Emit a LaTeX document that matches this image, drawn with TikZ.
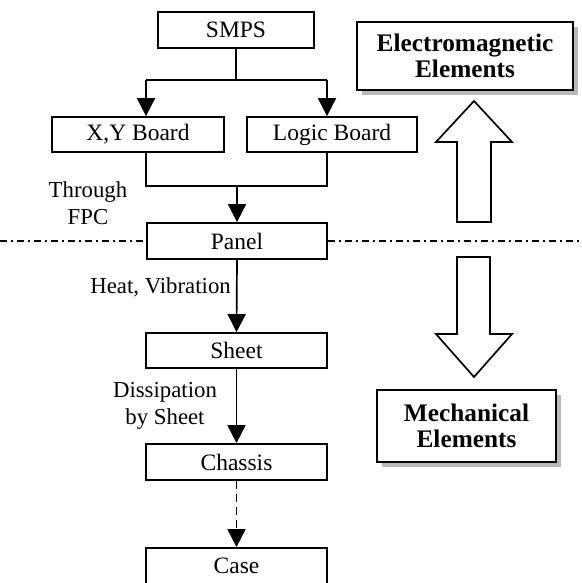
\documentclass[tikz,border=0pt]{standalone}
\usepackage{fontspec}
\setmainfont{Liberation Serif}
\usetikzlibrary{arrows.meta}
\begin{document}
\begin{tikzpicture}[x=1pt,y=-1pt,
  box/.style={draw,line width=1.7pt,fill=white,inner sep=0pt,font=\fontsize{23.5}{26}\selectfont},
  bigbox/.style={draw,line width=1.7pt,fill=white,inner sep=0pt,align=center,font=\fontsize{25.3}{28}\selectfont\bfseries},
  conn/.style={line width=1.7pt,-{Triangle[width=18pt,length=18pt]}},
  plain/.style={line width=1.7pt},
  lbl/.style={inner sep=0pt,font=\fontsize{22.8}{26.5}\selectfont,align=center},
  hollow/.style={draw,line width=1.7pt,fill=white,line join=miter},
  shadowfill/.style={fill=gray!55}
]
\useasboundingbox (0,0) rectangle (581,583);

% boxes
\node[box,minimum width=156pt,minimum height=36pt] (smps) at (236,30) {SMPS};
\node[box,minimum width=172pt,minimum height=35pt] (xy) at (138,134.5) {X,Y Board};
\node[box,minimum width=170pt,minimum height=35pt] (logic) at (332,134.5) {Logic Board};
\node[box,minimum width=180pt,minimum height=36pt] (panel) at (237,241) {Panel};
\node[box,minimum width=181pt,minimum height=35pt] (sheet) at (236.5,350.5) {Sheet};
\node[box,minimum width=181pt,minimum height=36pt] (chassis) at (236.5,462) {Chassis};
\node[box,minimum width=181pt,minimum height=36pt] (case) at (236.5,566) {Case};

% connectors top
\coordinate (j1) at (236,80);
\coordinate (jl) at (146,80);
\coordinate (jr) at (327,80);
\draw[plain] (smps.south) -- (j1);
\draw[plain] (jl) -- (jr);
\draw[conn] (jl) -- (jl |- xy.north);
\draw[conn] (jr) -- (jr |- logic.north);
\coordinate (ml) at (146,186);
\coordinate (mr) at (327,186);
\coordinate (mc) at (237,186);
\draw[plain] (ml |- xy.south) -- (ml) -- (mr) -- (mr |- logic.south);
\draw[conn] (mc) -- (panel.north);
\draw[conn] (panel.south) -- (sheet.north);
\draw[conn] (sheet.south) -- (chassis.north);
\draw[conn,dash pattern=on 8pt off 5pt] (chassis.south) -- (case.north);

% dash-dot divider
\coordinate (dl) at (0,241);
\coordinate (dr) at (581,241);
\draw[line width=1.3pt,dash pattern=on 7pt off 4pt on 2pt off 4pt] (dl) -- (panel.west);
\draw[line width=1.3pt,dash pattern=on 7pt off 4pt on 2pt off 4pt] (panel.east) -- (dr);

% labels
\node[lbl] (fpc) at (88,203) {Through\\FPC};
\node[lbl,anchor=east] (heat) at (231,287) {Heat, Vibration};
\node[lbl] (diss) at (165,406) {Dissipation\\by Sheet};

% element boxes with shadows
\fill[shadowfill] (362,27) rectangle (578,95);
\node[bigbox,minimum width=216pt,minimum height=68pt] (em) at (465,56) {Electromagnetic\\[-2pt]Elements};
\fill[shadowfill] (382,395) rectangle (561,467);
\node[bigbox,minimum width=179pt,minimum height=72pt] (mech) at (466.5,426) {Mechanical\\[-2pt]Elements};

% hollow arrows
\draw[hollow] (474,101) -- (512,142) -- (491,142) -- (491,222) -- (457,222) -- (457,142) -- (436,142) -- cycle;
\draw[hollow] (457,257) -- (490,257) -- (490,334) -- (512,334) -- (474,377) -- (436,334) -- (457,334) -- cycle;
\end{tikzpicture}
\end{document}
